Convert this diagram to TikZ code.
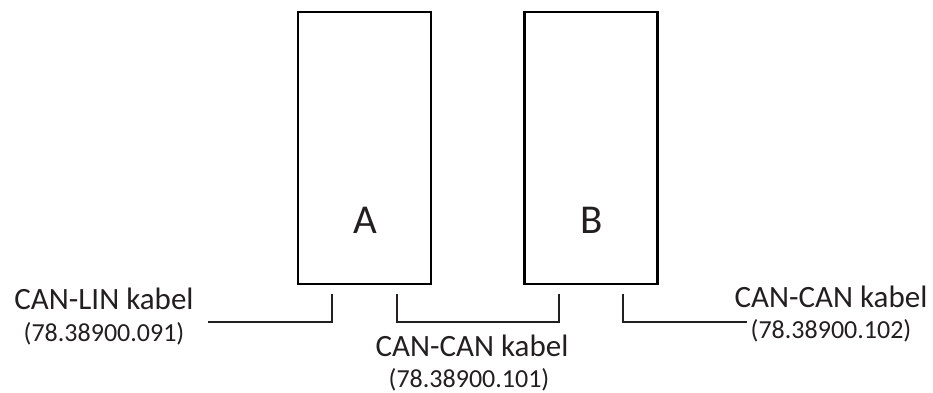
\documentclass[tikz,border=0pt]{standalone}
\usepackage{fontspec}
\setmainfont{Carlito}
\definecolor{ink}{RGB}{35,31,32}
\tikzset{unit/.style = {draw, rectangle, line width = 2.7pt, inner sep = 0,
                        minimum width = 133pt, minimum height = 272pt}}
\tikzset{cable/.style = {line width = 2pt, draw = ink}}
\tikzset{biglbl/.style = {anchor = base, inner sep = 0, text = ink, font = \fontsize{41}{45}\selectfont}}
\tikzset{kabellbl/.style = {anchor = base, inner sep = 0, text = ink, font = \fontsize{31}{34}\selectfont}}
\tikzset{codelbl/.style = {anchor = base, inner sep = 0, text = ink, font = \fontsize{26}{30}\selectfont}}

\begin{document}
\begin{tikzpicture}[x = 1pt, y = -1pt]
      \useasboundingbox (0, 0) rectangle (933, 392);

      \node [unit] (boxA) at (364.5, 148) {};
      \node [unit] (boxB) at (591, 148) {};
      \node [biglbl] (labA) at (365, 233) {A};
      \node [biglbl] (labB) at (592, 233) {B};

      \coordinate (plugA1) at (332, 294);
      \coordinate (plugA2) at (397, 294);
      \coordinate (plugB1) at (559, 294);
      \coordinate (plugB2) at (623, 294);
      \coordinate (endL) at (208, 322);
      \coordinate (endR) at (747, 322);
      \coordinate (endM) at (559, 322);

      \draw [cable] (plugA1) |- (endL);
      \draw [cable] (plugA2) |- (endM) -- (plugB1);
      \draw [cable] (plugB2) |- (endR);

      \node [kabellbl] (linA) at (104, 309) {CAN-LIN kabel};
      \node [codelbl] (linB) at (104, 341) {(78.38900.091)};

      \node [kabellbl] (midA) at (472, 356) {CAN-CAN kabel};
      \node [codelbl] (midB) at (469, 387) {(78.38900.101)};

      \node [kabellbl] (rgtA) at (831, 307) {CAN-CAN kabel};
      \node [codelbl] (rgtB) at (831, 338) {(78.38900.102)};
    \end{tikzpicture}
\end{document}
